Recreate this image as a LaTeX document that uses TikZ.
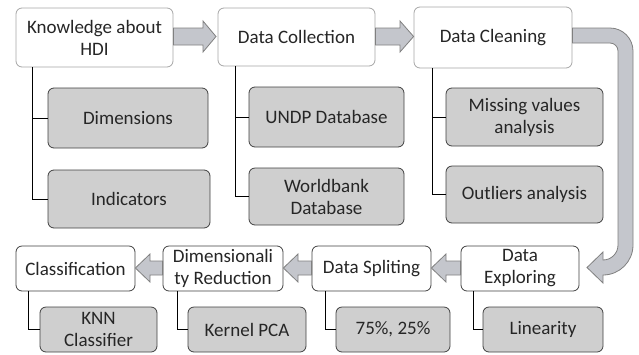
\documentclass[tikz,border=0pt]{standalone}
\usepackage{fontspec}
\setmainfont{Carlito}
\begin{document}
\begin{tikzpicture}[x=1pt,y=-1pt,
  box/.style={draw=#1,rounded corners=6pt,fill=white,line width=0.8pt,align=center,inner sep=0pt,
    text=black!85,font=\fontsize{19}{22}\selectfont},
  box/.default={black!35},
  gbox/.style={draw=black!75,rounded corners=6pt,fill=black!19,line width=0.8pt,align=center,inner sep=0pt,
    text=black!85,font=\fontsize{19}{22}\selectfont},
  conn/.style={draw=black,line width=0.8pt},
  bigarrow/.style={draw=black!50,fill=arrfill,line width=0.8pt,line join=miter}]
\useasboundingbox (0,0) rectangle (639,354);
\definecolor{arrfill}{RGB}{196,198,204}
% top row
\node[box,minimum width=157pt,minimum height=59pt] (know) at (94.5,37.5) {Knowledge about\\HDI};
\node[box,minimum width=157pt,minimum height=58pt] (coll) at (296.5,37) {Data Collection};
\node[box,minimum width=158pt,minimum height=61pt] (clean) at (493,37.5) {Data Cleaning};
% children top
\node[gbox,minimum width=160pt,minimum height=60pt] (dim) at (128,118) {Dimensions};
\node[gbox,minimum width=162pt,minimum height=58pt] (ind) at (129,199) {Indicators};
\node[gbox,minimum width=155pt,minimum height=60pt] (undp) at (326.5,117) {UNDP Database};
\node[gbox,minimum width=155pt,minimum height=57pt] (wb) at (326.5,196.5) {Worldbank\\Database};
\node[gbox,minimum width=157pt,minimum height=58pt] (miss) at (524.5,117) {Missing values\\analysis};
\node[gbox,minimum width=157pt,minimum height=57pt] (out) at (524.5,194.5) {Outliers analysis};
% bottom row
\node[box=black!75,minimum width=119pt,minimum height=45pt] (cls) at (75.5,268.5) {Classification};
\node[box=black!75,minimum width=120pt,minimum height=45pt] (dr) at (223,268.5) {Dimensionali\\ty Reduction};
\node[box=black!75,minimum width=119pt,minimum height=45pt] (ds) at (371.5,268.5) {Data Spliting};
\node[box=black!75,minimum width=118pt,minimum height=45pt] (de) at (520,268.5) {Data\\Exploring};
% bottom children
\node[gbox,minimum width=117pt,minimum height=45pt] (knn) at (98.5,329.5) {KNN\\Classifier};
\node[gbox,minimum width=118pt,minimum height=45pt] (kpca) at (247,329.5) {Kernel PCA};
\node[gbox,minimum width=114pt,minimum height=45pt] (split) at (393,329.5) {75\%, 25\%};
\node[gbox,minimum width=120pt,minimum height=45pt] (lin) at (543,329.5) {Linearity};
% tree connectors
\draw[conn] (know.south -| 32,0) |- (dim.west);
\draw[conn] (know.south -| 32,0) |- (ind.west);
\draw[conn] (coll.south -| 235,0) |- (undp.west);
\draw[conn] (coll.south -| 235,0) |- (wb.west);
\draw[conn] (clean.south -| 432,0) |- (miss.west);
\draw[conn] (clean.south -| 432,0) |- (out.west);
\draw[conn] (cls.south -| 28,0) |- (knn.west);
\draw[conn] (dr.south -| 177,0) |- (kpca.west);
\draw[conn] (ds.south -| 325,0) |- (split.west);
\draw[conn] (de.south -| 473,0) |- (lin.west);
% block arrows top
\path[bigarrow] (know.east |- 0,28) -- (203,28) -- (203,21) -- (216,36.5) -- (203,52) -- (203,45) -- (know.east |- 0,45) -- cycle;
\path[bigarrow] (coll.east |- 0,28) -- (400,28) -- (400,21) -- (clean.west |- 0,36.5) -- (400,52) -- (400,45) -- (coll.east |- 0,45) -- cycle;
% bottom arrows (leftward)
\path[bigarrow] (de.west |- 0,261) -- (446,261) -- (446,254) -- (ds.east |- 0,268) -- (446,282) -- (446,275) -- (de.west |- 0,275) -- cycle;
\path[bigarrow] (ds.west |- 0,261) -- (298,261) -- (298,254) -- (dr.east |- 0,268) -- (298,282) -- (298,275) -- (ds.west |- 0,275) -- cycle;
\path[bigarrow] (dr.west |- 0,261) -- (150,261) -- (150,254) -- (cls.east |- 0,268) -- (150,282) -- (150,275) -- (dr.west |- 0,275) -- cycle;
% U-turn arrow
\path[bigarrow] (clean.east |- 0,28) -- (610,28) .. controls (622.7,28) and (633,38.3) .. (633,51)
  -- (633,245) .. controls (633,261.6) and (619.6,275) .. (603,275)
  -- (603,283) -- (587,267.5) -- (603,252) -- (603,260)
  .. controls (611.3,260) and (618,253.3) .. (618,245)
  -- (618,51) .. controls (618,46.6) and (614.4,43) .. (610,43)
  -- (clean.east |- 0,43) -- cycle;
\end{tikzpicture}
\end{document}
